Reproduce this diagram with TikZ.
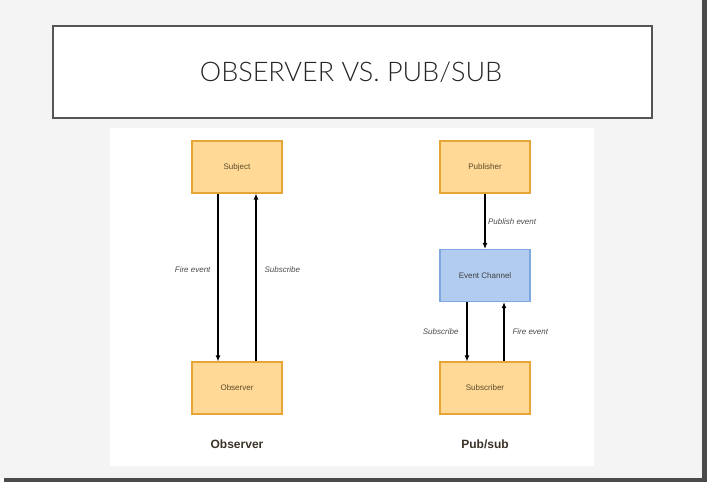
\documentclass[tikz,border=0pt]{standalone}
\usepackage{fontspec}
\usetikzlibrary{arrows.meta}
\newfontfamily\diagfont{Liberation Sans}
\newfontfamily\titlefont{Lato Light}
\definecolor{slidebg}{HTML}{F4F4F4}
\definecolor{slideshadow}{HTML}{4A4A4A}
\definecolor{titleline}{HTML}{555555}
\definecolor{orangefill}{HTML}{FFD995}
\definecolor{orangeline}{HTML}{E5A635}
\definecolor{bluefill}{HTML}{B1CCEF}
\definecolor{blueline}{HTML}{7FA7E1}
\definecolor{boxtext}{HTML}{5B4A2C}
\begin{document}
\begin{tikzpicture}[x=1pt,y=-1pt,
  actor/.style={draw=orangeline,fill=orangefill,line width=1.2pt,minimum width=90pt,minimum height=52pt,
    inner sep=0pt,font=\diagfont\fontsize{8}{9}\selectfont,text=boxtext},
  channel/.style={actor,draw=blueline,fill=bluefill,text=black!75},
  msg/.style={draw=black,line width=1.1pt,-{Latex[length=6pt,width=5pt]}},
  lbl/.style={font=\diagfont\itshape\fontsize{8}{9}\selectfont,text=black!70,inner sep=0pt},
  caption/.style={font=\diagfont\bfseries\fontsize{12}{14}\selectfont,text={rgb,255:red,58;green,50;blue,39}}]
\useasboundingbox[fill=white] (0,0) rectangle (712,488);
% slide with its shadow
\fill[slideshadow] (4,0) rectangle (707,482);
\fill[slidebg] (0,0) rectangle (702,478);
% title
\draw[titleline,line width=2pt,fill=white] (53,26) rectangle (652,118);
\node[font=\titlefont\fontsize{27}{30}\selectfont,text=black!85] (title) at (351,72) {OBSERVER VS. PUB/SUB};
% white panel
\fill[white] (110,128) rectangle (594,466);
%Observer
\node[actor] (subj) at (237,167) {Subject};
\node[actor] (obs) at (237,388) {Observer};
\draw[msg] ([xshift=-19pt]subj.south) -- ([xshift=-19pt]obs.north)
  node[lbl,pos=0.456,left=7pt] {Fire event};
\draw[msg] ([xshift=19pt]obs.north) -- ([xshift=19pt]subj.south)
  node[lbl,pos=0.544,right=8pt] {Subscribe};
\node[caption] (obscap) at (237,444) {Observer};
%Pub/sub
\node[actor] (pub) at (485,167) {Publisher};
\node[channel] (chan) at (485,275.5) {Event Channel};
\node[actor] (subr) at (485,388) {Subscriber};
\draw[msg] (pub.south) -- (chan.north)
  node[lbl,midway,right=2.5pt] {Publish event};
\draw[msg] ([xshift=-18pt]chan.south) -- ([xshift=-18pt]subr.north)
  node[lbl,midway,left=8pt] {Subscribe};
\draw[msg] ([xshift=19pt]subr.north) -- ([xshift=19pt]chan.south)
  node[lbl,midway,right=8pt] {Fire event};
\node[caption] (pubcap) at (485,444) {Pub/sub};
\end{tikzpicture}
\end{document}
